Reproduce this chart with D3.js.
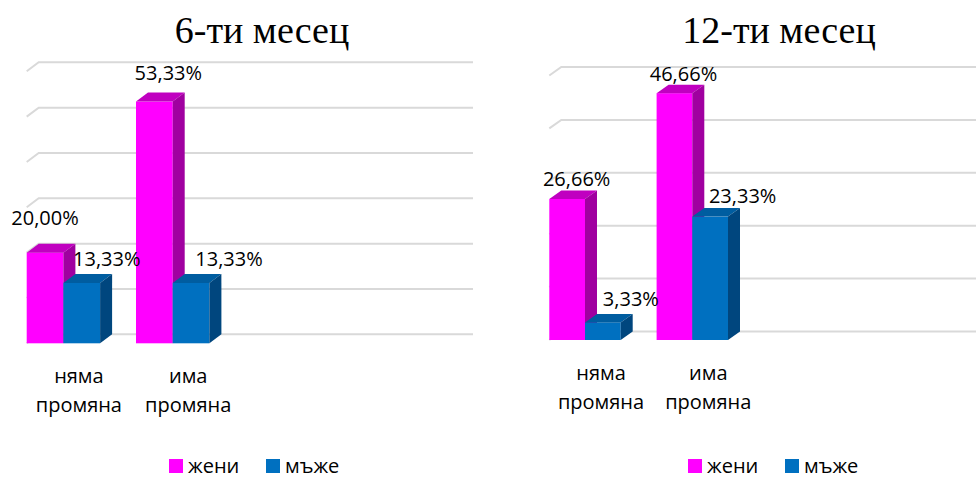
<!DOCTYPE html>
<html>
<head>
<meta charset="utf-8">
<script src="https://cdn.jsdelivr.net/npm/d3@7"></script>
<style>
  html, body { margin: 0; padding: 0; background: #fff; }
  svg { display: block; }
  .lbl { font-family: "Open Sans", "DejaVu Sans", sans-serif; font-size: 20px; fill: #000; }
  .title { font-family: "Liberation Serif", "Times New Roman", serif; font-size: 38px; fill: #000; }
</style>
</head>
<body>
<svg id="chart" width="976" height="478"></svg>
<script>
// Categories and series
const categories = ["няма промяна", "има промяна"];
const seriesNames = ["жени", "мъже"];

// Values (%) after 6 months
const women6 = [20.00, 53.33];
const men6 = [13.33, 13.33];
// Values (%) after 12 months
const women12 = [26.66, 46.66];
const men12 = [3.33, 23.33];

// Gridline values for each panel
const ticks6 = [0, 10, 20, 30, 40, 50, 60];
const ticks12 = [0, 10, 20, 30, 40, 50];

const titles = ["6-ти месец", "12-ти месец"];

// Face colours: front, top, side
const faceColors = [
  { front: "#FF00FF", top: "#C000C0", side: "#A000A0" },
  { front: "#0070C0", top: "#005DA0", side: "#00467E" }
];

// Panel layout
const panels = [
  {
    title: titles[0], titleX: 262, series: [women6, men6], ticks: ticks6,
    x0: 26.7, step: 109.3, barW: 36.7, base: 343.3, pxPer10: 45.33,
    dx: 12, dy: 9, gridRight: 473,
    labelDx: [[0, 14], [25, 38]], labelDy: [[28, 22], [17, 17]],
    catDx: 15.5, catY: 383,
    legendX: 169
  },
  {
    title: titles[1], titleX: 779, series: [women12, men12], ticks: ticks12,
    x0: 549.3, step: 107.3, barW: 35.7, base: 340, pxPer10: 52.9,
    dx: 12, dy: 8.5, gridRight: 976,
    labelDx: [[9.5, 9], [28, 32.5]], labelDy: [[13, 12], [16, 14]],
    catDx: 16, catY: 380,
    legendX: 688
  }
];

const svg = d3.select("#chart");

panels.forEach(p => {
  const g = svg.append("g");
  const maxTick = d3.max(p.ticks);

  // Category band scale: the two groups sit at the left of the plot
  const groupW = 2 * p.barW;
  const x = d3.scaleBand()
    .domain(categories)
    .range([p.x0, p.x0 + p.step + groupW])
    .paddingInner(1 - groupW / p.step)
    .paddingOuter(0);
  const xs = d3.scaleBand().domain(seriesNames).range([0, x.bandwidth()]);
  const y = d3.scaleLinear().domain([0, maxTick])
    .range([p.base, p.base - maxTick / 10 * p.pxPer10]);

  // Title
  g.append("text").attr("class", "title")
    .attr("x", p.titleX).attr("y", 43).attr("text-anchor", "middle")
    .text(p.title);

  // Back wall gridlines with a short floor stub to the left
  const gridLeft = p.x0;
  g.append("g").selectAll("path").data(p.ticks).join("path")
    .attr("d", t => {
      const yy = y(t) - p.dy;
      return `M${gridLeft},${yy + p.dy}L${gridLeft + p.dx},${yy}L${p.gridRight},${yy}`;
    })
    .attr("fill", "none").attr("stroke", "#D9D9D9").attr("stroke-width", 2);

  // 3D bars
  categories.forEach((c, ci) => {
    seriesNames.forEach((s, si) => {
      const v = p.series[si][ci];
      const bx = x(c) + xs(s);
      const bw = xs.bandwidth();
      const top = y(v);
      const base = y(0);
      const col = faceColors[si];
      const bar = g.append("g");
      bar.append("rect").attr("x", bx).attr("y", top)
        .attr("width", bw).attr("height", base - top).attr("fill", col.front);
      bar.append("path")
        .attr("d", `M${bx},${top}L${bx + p.dx},${top - p.dy}L${bx + bw + p.dx},${top - p.dy}L${bx + bw},${top}Z`)
        .attr("fill", col.top);
      bar.append("path")
        .attr("d", `M${bx + bw},${top}L${bx + bw + p.dx},${top - p.dy}L${bx + bw + p.dx},${base - p.dy}L${bx + bw},${base}Z`)
        .attr("fill", col.side);
    });
  });

  // Data labels
  categories.forEach((c, ci) => {
    seriesNames.forEach((s, si) => {
      const v = p.series[si][ci];
      const cx = x(c) + xs(s) + xs.bandwidth() / 2;
      g.append("text").attr("class", "lbl")
        .attr("x", cx + p.labelDx[si][ci])
        .attr("y", y(v) - p.labelDy[si][ci])
        .attr("text-anchor", "middle")
        .text(d3.format(".2f")(v).replace(".", ",") + "%");
    });
  });

  // Category labels (two lines)
  categories.forEach(c => {
    const cx = x(c) + x.bandwidth() / 2 + p.catDx;
    const words = c.split(" ");
    const t = g.append("text").attr("class", "lbl").attr("text-anchor", "middle");
    words.forEach((w, i) => {
      t.append("tspan").attr("x", cx).attr("y", p.catY + i * 28.5).text(w);
    });
  });

  // Legend
  const lg = g.append("g").attr("transform", `translate(${p.legendX},0)`);
  seriesNames.forEach((s, si) => {
    const lx = si * 97;
    lg.append("rect").attr("x", lx).attr("y", 459).attr("width", 14).attr("height", 14)
      .attr("fill", faceColors[si].front);
    lg.append("text").attr("class", "lbl").attr("x", lx + 19).attr("y", 473).text(s);
  });
});
</script>
</body>
</html>
